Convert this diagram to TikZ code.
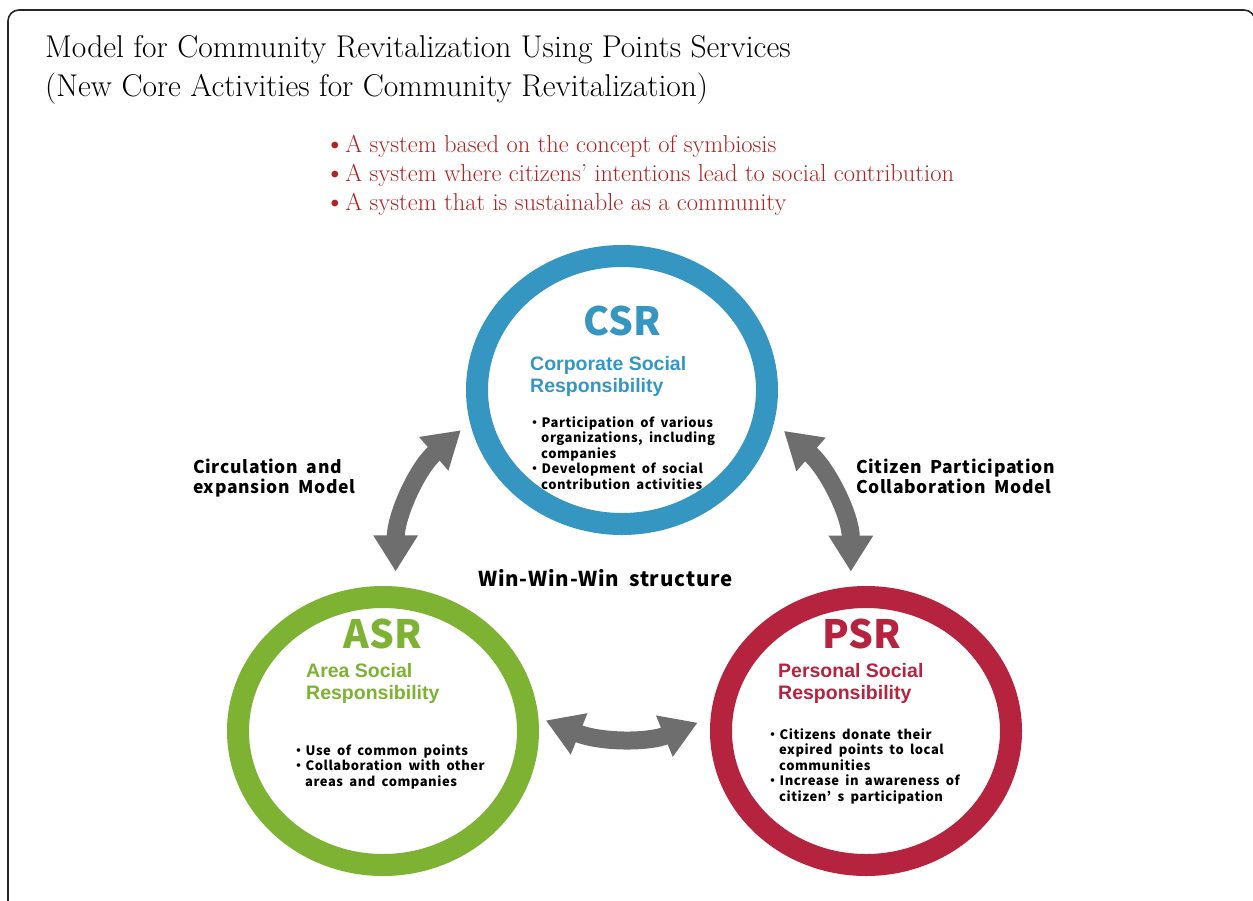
\documentclass[tikz,border=0pt]{standalone}
\usepackage{fontspec}
\usepackage{xcolor}
\newfontfamily\jpfont[LetterSpace=4,WordSpace=1.8]{Noto Sans CJK JP}
\newfontfamily\tagfont{Noto Sans CJK JP}
\newfontfamily\headfont{Liberation Sans}
\usetikzlibrary{arrows.meta,positioning,shapes.geometric}
\definecolor{csrblue}{RGB}{53,150,193}
\definecolor{asrgreen}{RGB}{125,178,50}
\definecolor{psrred}{RGB}{181,35,62}
\definecolor{aimred}{RGB}{178,34,34}
\definecolor{arrowgray}{RGB}{110,110,110}
\newcommand{\aimdot}{{\fontsize{30}{0}\selectfont\raisebox{-1.5pt}{\textbullet}}\kern-0.5pt}

\begin{document}
\begin{tikzpicture}[x=1pt,y=1pt]
\tikzstyle{every node}+=[inner sep=0pt]
\tikzstyle{ring}=[ellipse,draw,line width=22pt,minimum width=290pt,minimum height=268pt]
\tikzstyle{tag}=[anchor=base,font=\tagfont\bfseries\fontsize{39}{39}\selectfont]
\tikzstyle{subhead}=[anchor=base west,align=left,font=\headfont\bfseries\fontsize{19.5}{22}\selectfont]
\tikzstyle{points}=[anchor=base west,align=left,font=\jpfont\bfseries\fontsize{13}{15.5}\selectfont]
\tikzstyle{model}=[anchor=base west,align=left,font=\jpfont\bfseries\fontsize{17.5}{20}\selectfont]
\tikzstyle{twoway}=[draw=arrowgray,line width=18pt,{Triangle[width=42pt,length=36pt]}-{Triangle[width=42pt,length=36pt]}]
\useasboundingbox (0,0) rectangle (1253,-900);
\draw [black!85,line width=1.6pt,rounded corners=11pt] (8,-920) -- (8,-10) -- (1255,-10) -- (1255,-920);
% heading (base = last line)
\node (title) [anchor=base west,align=left,font=\fontsize{31.5}{39}\selectfont] at (45,-96)
  {Model for Community Revitalization Using Points Services\\(New Core Activities for Community Revitalization)};
\node (aims) [anchor=base west,align=left,text=aimred,font=\fontsize{24.5}{29}\selectfont] at (324,-210)
  {\aimdot A system based on the concept of symbiosis\\
   \aimdot A system where citizens’ intentions lead to social contribution\\
   \aimdot A system that is sustainable as a community};
% circles
\node (csr) [ring,draw=csrblue] at (622,-390) {};
\node (asr) [ring,draw=asrgreen] at (383,-731) {};
\node (psr) [ring,draw=psrred] at (866,-731) {};
\node (csrtag) [tag,text=csrblue] at (622,-335) {CSR};
\node (csrname) [subhead,text=csrblue] at (530,-392) {Corporate Social\\Responsibility};
\node (csrlist) [points] at (528,-489)
  {・Participation of various\\\hphantom{・}organizations, including\\\hphantom{・}companies\\
   ・Development of social\\\hphantom{・}contribution activities};
\node (asrtag) [tag,text=asrgreen] at (383,-648) {ASR};
\node (asrname) [subhead,text=asrgreen] at (306,-699) {Area Social\\Responsibility};
\node (asrlist) [points] at (292,-786)
  {・Use of common points\\・Collaboration with other\\\hphantom{・}areas and companies};
\node (psrtag) [tag,text=psrred] at (862,-648) {PSR};
\node (psrname) [subhead,text=psrred] at (778,-699) {Personal Social\\Responsibility};
\node (psrlist) [points] at (766,-801)
  {・Citizens donate their\\\hphantom{・}expired points to local\\\hphantom{・}communities\\
   ・Increase in awareness of\\\hphantom{・}citizen’ s participation};
% models
\node (leftmodel) [model] at (193,-493) {Circulation and\\expansion Model};
\node (rightmodel) [model] at (856,-493) {Citizen Participation\\Collaboration Model};
\node (winwin) [model,font=\jpfont\bfseries\fontsize{20.5}{20}\selectfont] at (478,-586) {Win-Win-Win structure};
% arrows
\draw [twoway,shorten <=15pt,shorten >=12pt] (asr.85) to[out=90,in=221] (csr.192);
\draw [twoway,shorten <=15pt,shorten >=13pt] (psr.96) to[out=90,in=319] (csr.348);
\draw [twoway,shorten <=8pt,shorten >=14pt] (asr.5) to[out=-22,in=202] (psr.175);
\end{tikzpicture}
\end{document}
